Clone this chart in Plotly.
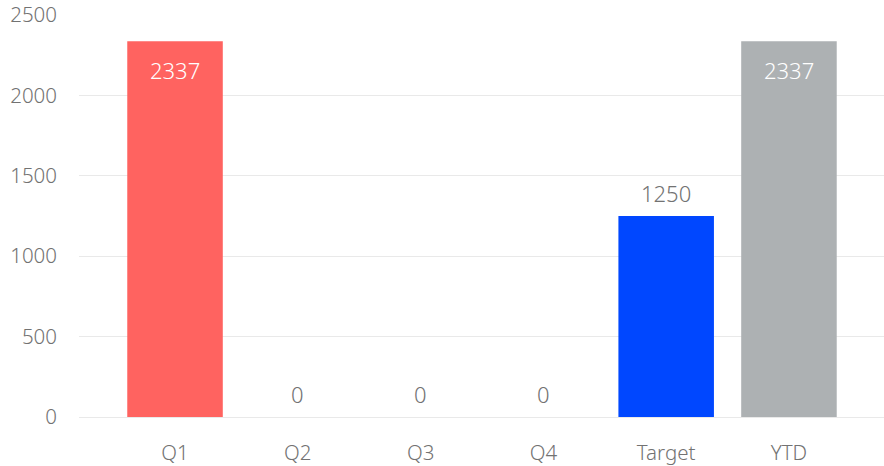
import plotly.graph_objects as go

categories = ["Q1", "Q2", "Q3", "Q4", "Target", "YTD"]
values = [2337, 0, 0, 0, 1250, 2337]
bar_colors = ["#FF6360", "#FF6360", "#FF6360", "#FF6360", "#0047FF", "#ADB1B3"]
inside_label = [True, False, False, False, False, True]
y_ticks = [0, 500, 1000, 1500, 2000, 2500]

FONT = "Noto Sans"
GREY = "#727272"

fig = go.Figure()
fig.add_trace(go.Bar(
    x=categories, y=values,
    marker=dict(color=bar_colors, line=dict(width=0)),
    hoverinfo="skip",
))

for c, v, ins in zip(categories, values, inside_label):
    fig.add_annotation(
        x=c, y=v, text=str(v), showarrow=False,
        xanchor="center", yanchor="middle",
        yshift=-29 if ins else 23,
        font=dict(family=FONT, size=22, weight=300,
                  color="#FFFFFF" if ins else GREY),
    )

fig.update_layout(
    width=884, height=466,
    margin=dict(l=79, r=0, t=15, b=49),
    paper_bgcolor="white", plot_bgcolor="white",
    bargap=0.222,
    showlegend=False,
    font=dict(family=FONT, color=GREY),
    xaxis=dict(
        type="category", range=[-0.782, 5.774],
        showgrid=False, showline=False, zeroline=False,
        ticks="", ticklabelstandoff=21,
        tickfont=dict(family=FONT, size=20.5, weight=300, color=GREY),
    ),
    yaxis=dict(
        range=[0, 2500], tickvals=y_ticks,
        showgrid=True, gridcolor="#E9E9E9", gridwidth=1,
        zeroline=True, zerolinecolor="#E9E9E9", zerolinewidth=1,
        showline=False, ticks="", ticklabelstandoff=21,
        tickfont=dict(family=FONT, size=20.5, weight=300, color=GREY),
    ),
)

fig.write_html("out.html")
